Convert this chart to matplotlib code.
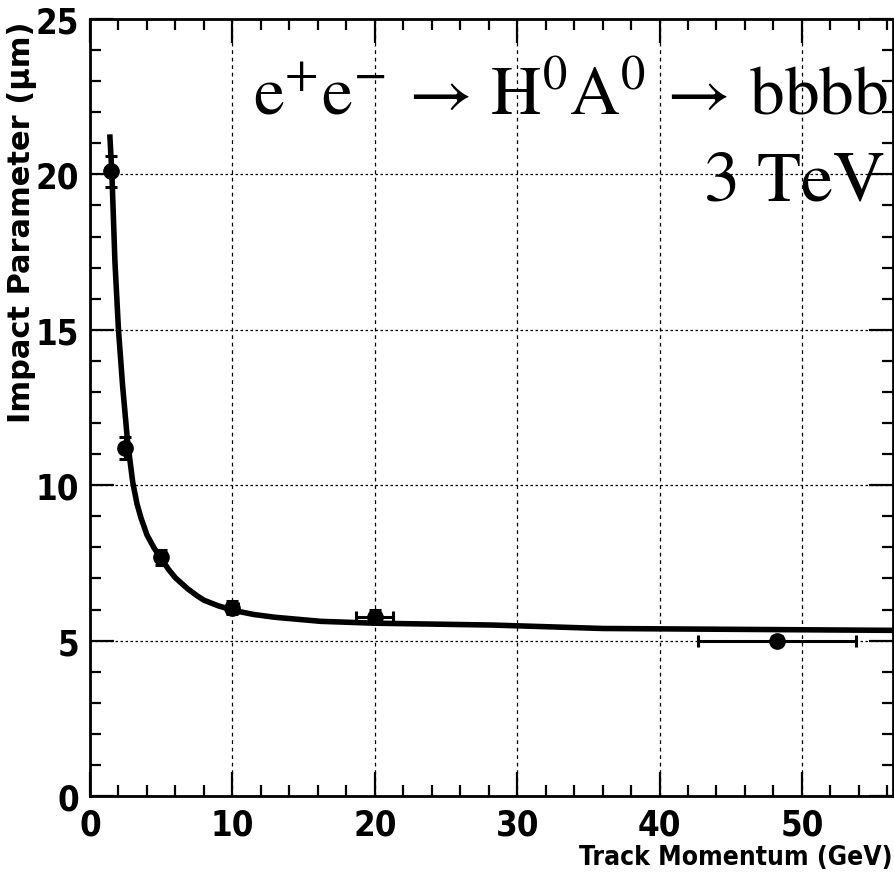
import numpy as np
import matplotlib.pyplot as plt

plt.rcParams['font.family'] = ['DejaVu Sans']
plt.rcParams['mathtext.fontset'] = 'stix'

# measured points
p = [1.5, 2.45, 5.0, 10.0, 20.0, 48.25]
ip = [20.1, 11.2, 7.68, 6.06, 5.77, 5.0]
p_err = [0.0, 0.0, 0.0, 0.4, 1.3, 5.55]
ip_err = [0.5, 0.35, 0.25, 0.2, 0.2, 0.15]

# fit curve
fit_p = [1.40, 1.54, 1.75, 2.0, 2.29, 2.64, 3.0, 3.3, 3.58, 4.0, 4.5, 5.0, 5.5, 6.0,
         6.85, 7.5, 8.0, 9.0, 10.1, 11.5, 13.0, 16.2, 20.0, 28.3, 36.0, 46.0, 56.3]
fit_ip = [21.2, 20.0, 17.2, 15.0, 13.2, 11.4, 10.1, 9.4, 8.95, 8.4, 7.98, 7.64, 7.3, 7.02,
          6.67, 6.45, 6.3, 6.12, 5.97, 5.84, 5.75, 5.62, 5.56, 5.5, 5.39, 5.36, 5.33]

fig = plt.figure(figsize=(8.95, 8.79), dpi=100)
ax = fig.add_axes([90/895, 82/879, 803/895, 777/879])

ax.plot(fit_p, fit_ip, color='black', lw=4, solid_joinstyle='round', zorder=3)
ax.errorbar(p, ip, xerr=p_err, yerr=ip_err, fmt='o', color='black', ms=11,
            elinewidth=2.2, capsize=4, capthick=2.2, zorder=4)

ax.set_xlim(0, 56.4)
ax.set_ylim(0, 25)
ax.set_xticks([0, 10, 20, 30, 40, 50])
ax.set_yticks([0, 5, 10, 15, 20, 25])
ax.set_xticks(np.arange(0, 57, 2), minor=True)
ax.set_yticks(np.arange(0, 26, 1), minor=True)
ax.grid(True, which='major', axis='x', color='black', ls=(0, (3, 3)), lw=0.9)
ax.grid(True, which='major', axis='y', color='black', ls=(0, (2, 2)), lw=0.9)
ax.set_axisbelow(True)

ax.tick_params(which='both', direction='in', top=True, right=True, width=1.6,
               labelsize=25, pad=8)
ax.tick_params(which='major', length=17)
ax.tick_params(which='minor', length=8)
for lab in ax.get_xticklabels() + ax.get_yticklabels():
    lab.set_fontweight('bold')
    lab.set_fontstretch('condensed')
for s in ax.spines.values():
    s.set_linewidth(2)

ax.set_xlabel('Track Momentum (GeV)', fontsize=19, fontweight='bold',
              fontstretch='condensed')
ax.xaxis.set_label_coords(1.0, -0.062)
ax.xaxis.label.set_horizontalalignment('right')
ax.set_ylabel('Impact Parameter (\u03bcm)', fontsize=22, fontweight='bold')
ax.yaxis.set_label_coords(-0.085, 0.998)
ax.yaxis.label.set_horizontalalignment('right')
ax.yaxis.label.set_verticalalignment('center')

ax.text(0.994, 0.878, r'$\mathrm{e^{+}e^{-}\,\rightarrow\,H^{0}A^{0}\,\rightarrow\,bbbb}$',
        transform=ax.transAxes, ha='right', va='baseline', fontsize=50)
ax.text(0.99, 0.768, r'$\mathrm{3\ TeV}$', transform=ax.transAxes,
        ha='right', va='baseline', fontsize=52)

fig.savefig('out.png', dpi=100)
